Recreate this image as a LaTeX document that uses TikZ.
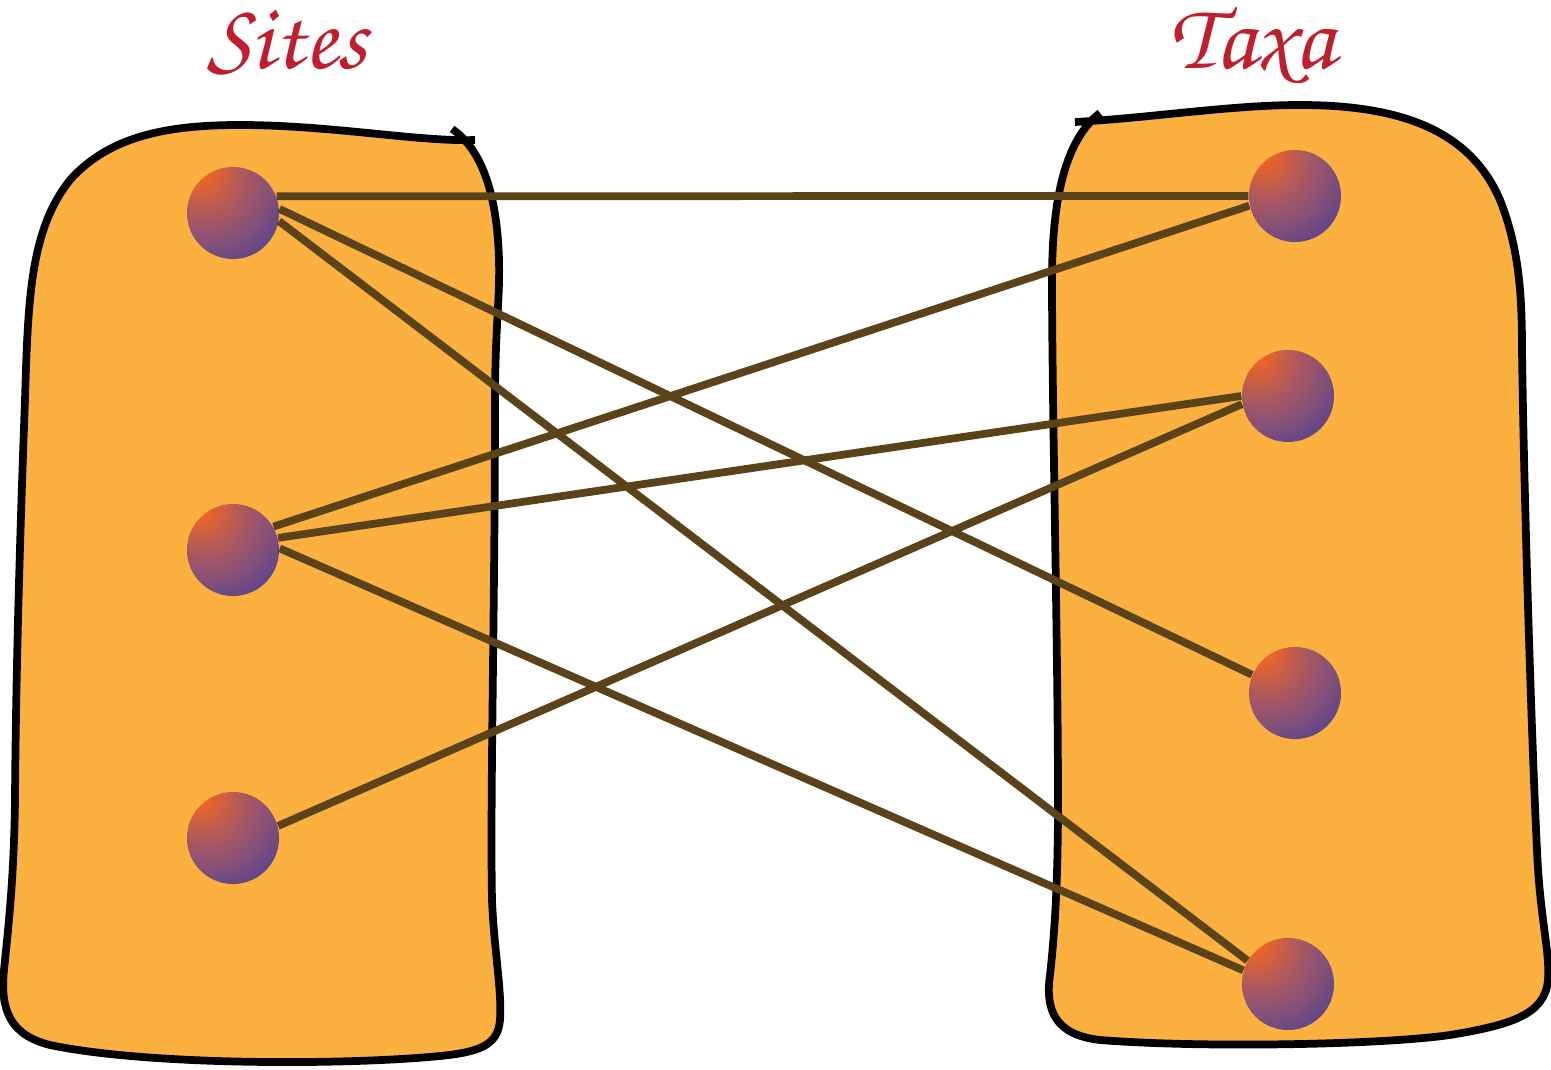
\documentclass[tikz,border=0pt]{standalone}
\usepackage[T1,TU]{fontenc}
\definecolor{blobfill}{RGB}{251,176,64}
\definecolor{linkbrown}{RGB}{90,67,24}
\definecolor{titlered}{RGB}{190,30,45}
\definecolor{orbhi}{RGB}{242,101,34}
\definecolor{orbmid}{RGB}{170,88,96}
\definecolor{orbpurple}{RGB}{130,80,122}
\definecolor{orbdeep}{RGB}{85,66,140}
\definecolor{orblo}{RGB}{40,56,150}
\pgfdeclareradialshading{orb}{\pgfpoint{-20bp}{25bp}}{color(0bp)=(orbhi); color(4bp)=(orbhi); color(22bp)=(orbmid); color(34bp)=(orbpurple); color(46bp)=(orbdeep); color(58bp)=(orblo); color(100bp)=(orblo)}
\tikzset{
  orbnode/.style={circle,minimum size=0.92cm,inner sep=0pt,shading=orb},
  link/.style={draw=linkbrown,line width=2.2pt},
  blob/.style={fill=blobfill,draw=black,line width=2.2pt,line join=round},
  title/.style={text=titlered,anchor=base,
    font=\fontencoding{T1}\fontfamily{pzc}\fontseries{m}\fontshape{it}\fontsize{27}{27}\selectfont}
}

\begin{document}
\begin{tikzpicture}[x=0.01cm,y=-0.01cm]
  \useasboundingbox (0,0) rectangle (1551,1070);
  % titles
  \node[title] (sites) at (287,69) {Sites};
  \node[title] (taxa) at (1252,69) {Taxa};
  % the set of sites
  \filldraw[blob] (452,129)
    .. controls (480,148) and (497,190) .. (499,260)
    .. controls (500,300) and (495,330) .. (495,400)
    .. controls (495,600) and (490,800) .. (492,900)
    .. controls (494,950) and (502,990) .. (500,1020)
    .. controls (498,1045) and (480,1052) .. (440,1056)
    .. controls (350,1065) and (150,1066) .. (50,1045)
    .. controls (10,1035) and (0,1010) .. (4,970)
    .. controls (8,930) and (14,880) .. (15,800)
    .. controls (16,650) and (22,480) .. (25,400)
    .. controls (28,300) and (30,230) .. (70,180)
    .. controls (110,135) and (170,125) .. (240,125)
    .. controls (330,125) and (420,142) .. (475,140);
  % the set of taxa
  \filldraw[blob] (1075,122)
    .. controls (1150,118) and (1230,105) .. (1300,105)
    .. controls (1400,105) and (1470,130) .. (1500,200)
    .. controls (1520,250) and (1522,300) .. (1522,350)
    .. controls (1524,500) and (1532,750) .. (1537,850)
    .. controls (1540,920) and (1550,950) .. (1548,980)
    .. controls (1545,1015) and (1510,1025) .. (1450,1035)
    .. controls (1380,1045) and (1200,1048) .. (1100,1040)
    .. controls (1055,1035) and (1045,1010) .. (1050,975)
    .. controls (1055,930) and (1058,880) .. (1058,800)
    .. controls (1058,650) and (1052,400) .. (1052,280)
    .. controls (1052,200) and (1065,140) .. (1100,113);
  % sites
  \node[orbnode] (site1) at (233,213) {};
  \node[orbnode] (site2) at (233,550) {};
  \node[orbnode] (site3) at (233,838) {};
  % taxa
  \node[orbnode] (taxon1) at (1295,196) {};
  \node[orbnode] (taxon2) at (1288,396) {};
  \node[orbnode] (taxon3) at (1295,693) {};
  \node[orbnode] (taxon4) at (1288,984) {};
  % links
  \draw[link] (site1.21) -- (taxon1.west);
  \draw[link] (site1.5) -- (taxon3.157);
  \draw[link] (site1.-10) -- (taxon4.150);
  \draw[link] (site2.30) -- (taxon1.192);
  \draw[link] (site2.15) -- (taxon2.west);
  \draw[link] (site2.2) -- (taxon4.163);
  \draw[link] (site3.15) -- (taxon2.190);
\end{tikzpicture}
\end{document}
